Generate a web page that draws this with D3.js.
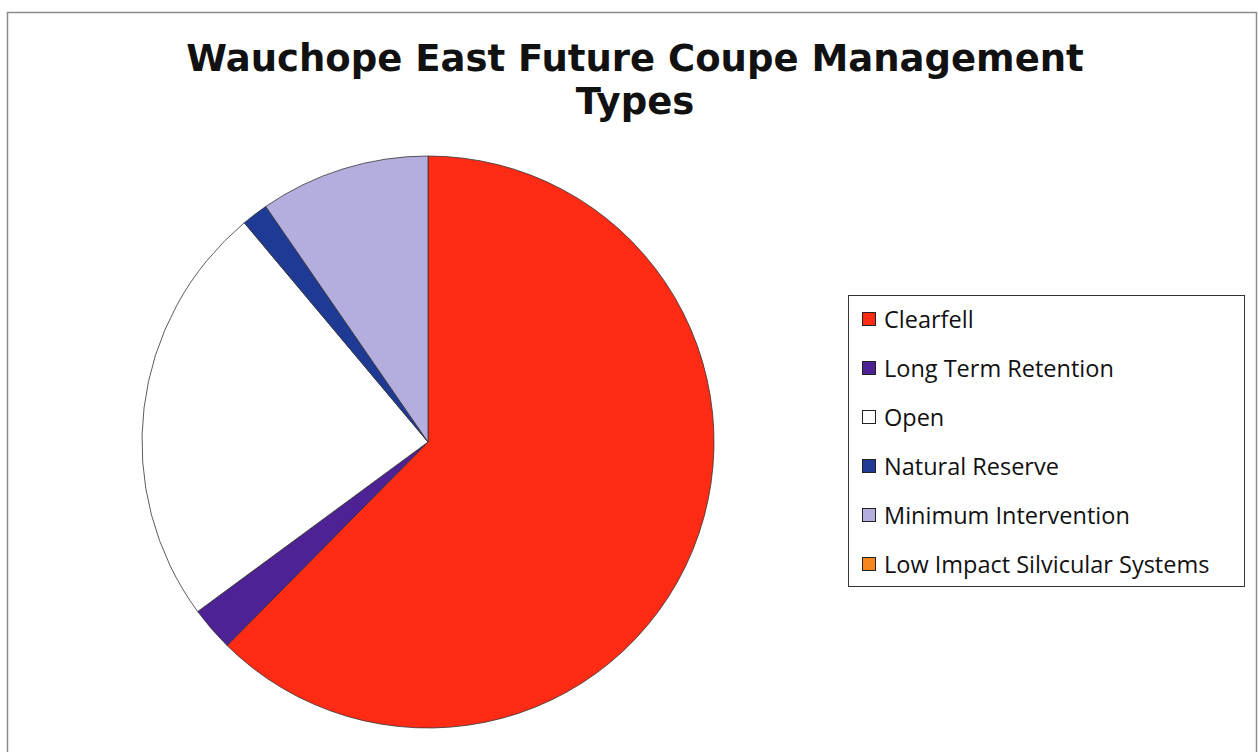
<!DOCTYPE html>
<html>
<head>
<meta charset="utf-8">
<script src="https://cdn.jsdelivr.net/npm/d3@7"></script>
<style>
  body { margin: 0; background: #fff; }
  svg { display: block; }
</style>
</head>
<body>
<div id="pie-chart"></div>
<script>
// Data (share of area, %)
const categories = ["Clearfell", "Long Term Retention", "Open", "Natural Reserve", "Minimum Intervention", "Low Impact Silvicultural Systems"];
const legendLabels = ["Clearfell", "Long Term Retention", "Open", "Natural Reserve", "Minimum Intervention", "Low Impact Silvicular Systems"];
const shares = [62.4, 2.5, 24.0, 1.5, 9.6, 0];
const colours = ["#FF2B14", "#4E2195", "#FFFFFF", "#1E3A94", "#B4AEDF", "#F7861C"];
const titleLines = ["Wauchope East Future Coupe Management", "Types"];

const data = categories.map((c, i) => ({name: c, label: legendLabels[i], value: shares[i], colour: colours[i]}));

const width = 1258;
const height = 752;

const svg = d3.select("#pie-chart")
  .append("svg")
    .attr("width", width)
    .attr("height", height);

// chart frame
svg.append("rect")
  .attr("x", 7.5)
  .attr("y", 12.5)
  .attr("width", 1249)
  .attr("height", 760)
  .attr("fill", "#fff")
  .attr("stroke", "#8a8a8a")
  .attr("stroke-width", 1.5);

// title
svg.append("g")
  .selectAll("text")
  .data(titleLines)
  .join("text")
    .attr("x", 635)
    .attr("y", (d, i) => 71 + i * 43)
    .attr("text-anchor", "middle")
    .attr("font-family", "DejaVu Sans, Verdana, sans-serif")
    .attr("font-weight", "bold")
    .attr("font-size", 37)
    .attr("fill", "#111")
    .text(d => d);

/* pie */
const cx = 428, cy = 442, radius = 286;
const pie = d3.pie()
  .value(d => d.value)
  .sort(null);
const arc = d3.arc()
  .innerRadius(0)
  .outerRadius(radius);

const pieG = svg.append("g")
  .attr("transform", `translate(${cx}, ${cy})`);

pieG.selectAll("path")
  .data(pie(data).filter(d => d.data.value > 0))
  .join("path")
    .attr("d", arc)
    .attr("fill", d => d.data.colour)
    .attr("stroke", "#333")
    .attr("stroke-width", 0.8)
    .attr("stroke-linejoin", "round");

/* legend */
const legend = svg.append("g");
legend.append("rect")
  .attr("x", 848.5)
  .attr("y", 295.5)
  .attr("width", 396)
  .attr("height", 291)
  .attr("fill", "#fff")
  .attr("stroke", "#333")
  .attr("stroke-width", 1);

const rowY = d3.scalePoint()
  .domain(categories)
  .range([319, 564]);

const rows = legend.selectAll("g.row")
  .data(data)
  .join("g")
    .attr("class", "row")
    .attr("transform", d => `translate(862, ${rowY(d.name)})`);

rows.append("rect")
  .attr("x", 0.5)
  .attr("y", -6.5)
  .attr("width", 13)
  .attr("height", 13)
  .attr("fill", d => d.colour)
  .attr("stroke", "#222")
  .attr("stroke-width", 1);

rows.append("text")
  .attr("x", 22)
  .attr("y", 8.5)
  .attr("font-family", "'Open Sans', Lato, sans-serif")
  .attr("font-size", 23.5)
  .attr("fill", "#111")
  .text(d => d.label);
</script>
</body>
</html>
